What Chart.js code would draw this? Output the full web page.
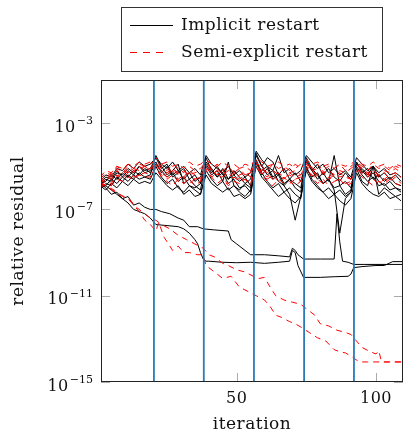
<!DOCTYPE html>
<html>
<head>
<meta charset="utf-8">
<script src="https://cdn.jsdelivr.net/npm/chart.js@4"></script>
<style>
html, body { margin: 0; padding: 0; background: #fff; }
</style>
</head>
<body>
<canvas id="residualChart" width="404" height="433"></canvas>
<script>
// Iterations where a restart happens (blue vertical lines)
const restartIters = [20.3, 38.2, 56.2, 74.2, 92.1];

// Axis ticks
const xTicks = [50, 100];
const yTickExps = [-3, -7, -11, -15];

// Iterations sampled for the non-converged Ritz pairs
const clusterIters = [1, 3, 5, 7, 9, 11, 13, 15, 17, 19, 21, 23, 25, 27, 29, 31, 33, 35, 37,
  39, 41, 43, 45, 47, 49, 51, 53, 55, 57, 59, 61, 63, 65, 67, 69, 71, 73,
  75, 77, 79, 81, 83, 85, 87, 89, 91, 93, 95, 97, 99, 101, 103, 105, 107, 109];

// log10 of relative residual, implicit restart (non-converged pairs)
const implicitCluster1 = [-5.9, -5.6, -5.7, -5.3, -5.4, -5.1, -5.3, -5.0, -5.2, -5.1,
  -4.6, -5.1, -4.9, -5.4, -5.2, -5.6, -5.3, -5.7, -5.5,
  -4.9, -5.3, -5.0, -5.4, -5.6, -5.2, -5.5, -5.8, -5.6,
  -4.5, -5.0, -4.6, -4.8, -5.4, -5.1, -5.6, -5.3, -5.7,
  -4.8, -5.2, -4.9, -5.4, -5.1, -5.5, -5.7, -5.3, -5.6,
  -4.9, -5.1, -5.4, -5.0, -5.5, -5.3, -5.6, -5.4, -5.7];
const implicitCluster2 = [-6.0, -5.9, -5.6, -5.8, -5.5, -5.7, -5.4, -5.6, -5.5, -5.6,
  -5.0, -5.5, -5.8, -5.6, -6.0, -6.2, -5.9, -6.1, -6.3,
  -5.2, -5.6, -5.9, -5.7, -6.1, -5.9, -6.2, -6.4, -6.1,
  -4.7, -5.3, -5.7, -6.0, -5.8, -6.2, -6.0, -6.3, -6.5,
  -5.0, -5.6, -5.9, -6.2, -6.0, -6.3, -6.1, -6.4, -6.2,
  -5.1, -5.7, -5.9, -5.0, -6.3, -6.0, -6.2, -6.4, -6.3];
const implicitCluster3 = [-5.8, -5.7, -5.4, -5.6, -5.3, -5.5, -5.2, -5.4, -5.1, -5.3,
  -4.9, -5.2, -5.5, -5.3, -5.7, -5.5, -5.9, -6.0, -5.8,
  -5.0, -5.4, -5.2, -5.7, -4.8, -5.9, -6.1, -5.8, -6.0,
  -4.4, -5.0, -5.4, -5.2, -5.7, -5.9, -6.3, -7.5, -6.4,
  -5.1, -5.5, -5.3, -5.8, -5.6, -6.0, -5.9, -6.3, -6.1,
  -5.0, -5.4, -5.7, -5.5, -5.9, -5.8, -6.1, -6.0, -6.2];
const implicitCluster4 = [-6.1, -5.8, -5.9, -5.5, -5.7, -5.4, -5.6, -5.3, -5.5, -5.4,
  -4.5, -5.0, -5.4, -5.2, -4.9, -5.8, -5.6, -5.9, -6.1,
  -4.8, -5.1, -5.5, -5.3, -5.8, -5.6, -6.0, -5.9, -6.2,
  -4.9, -5.2, -5.0, -5.5, -5.3, -5.8, -5.6, -6.0, -6.2,
  -4.6, -5.1, -5.4, -5.8, -5.6, -6.1, -8.1, -6.5, -6.2,
  -4.8, -5.2, -5.5, -5.3, -5.7, -5.9, -5.7, -6.0, -6.1];
const implicitCluster5 = [-5.7, -5.4, -5.5, -5.1, -5.2, -4.9, -5.1, -4.8, -5.0, -4.9,
  -4.6, -4.9, -5.1, -4.8, -5.2, -5.0, -5.3, -5.1, -5.4,
  -4.5, -4.9, -5.1, -5.3, -5.0, -5.4, -5.2, -5.5, -5.3,
  -4.3, -4.7, -5.0, -5.2, -4.5, -5.3, -5.1, -5.4, -5.2,
  -4.5, -4.8, -5.1, -4.9, -5.3, -5.1, -5.4, -5.2, -5.5,
  -4.6, -4.9, -5.2, -5.0, -5.3, -5.1, -5.4, -5.3, -5.5];
const implicitCluster6 = [-5.9, -6.1, -5.8, -6.0, -5.7, -5.9, -5.6, -5.8, -5.7, -5.8,
  -5.3, -5.6, -5.9, -6.1, -5.9, -6.3, -6.1, -6.4, -6.3,
  -5.4, -5.8, -6.0, -6.2, -6.0, -6.4, -6.3, -6.5, -6.3,
  -5.0, -5.5, -5.8, -6.1, -6.4, -6.2, -6.5, -6.7, -6.4,
  -5.2, -5.7, -6.0, -6.2, -6.5, -6.3, -6.6, -6.8, -6.5,
  -5.3, -5.8, -6.1, -6.3, -6.4, -6.2, -6.5, -6.4, -6.6];
const implicitCluster7 = [-5.8, -5.5, -5.6, -5.2, -5.5, -5.2, -5.4, -5.0, -5.3, -5.2,
  -4.8, -5.3, -5.0, -5.5, -5.3, -5.1, -5.6, -5.4, -5.8,
  -4.6, -5.2, -5.5, -5.1, -5.6, -5.4, -5.7, -5.5, -5.9,
  -4.8, -5.4, -5.1, -5.6, -5.4, -5.9, -5.6, -5.8, -6.0,
  -4.7, -5.2, -5.6, -5.3, -5.7, -4.5, -5.9, -5.7, -6.0,
  -4.8, -5.3, -5.1, -5.6, -5.4, -5.7, -5.5, -5.8, -5.9];

// log10 of relative residual, semi-explicit restart (non-converged pairs)
const semiCluster1 = [-5.6, -5.3, -5.4, -5.0, -5.2, -4.9, -5.1, -4.9, -5.0, -4.9,
  -4.7, -5.0, -5.2, -4.9, -5.1, -5.3, -5.0, -5.2, -5.1,
  -4.8, -5.1, -4.9, -5.2, -5.0, -5.3, -5.1, -5.0, -5.2,
  -4.7, -5.0, -5.2, -4.9, -5.1, -5.0, -5.2, -4.9, -5.1,
  -4.8, -5.1, -4.9, -5.2, -5.0, -5.1, -4.9, -5.2, -5.0,
  -4.8, -5.0, -5.2, -4.9, -5.1, -5.0, -5.2, -5.0, -5.1];
const semiCluster2 = [-5.8, -5.5, -5.6, -5.2, -5.4, -5.1, -5.3, -5.0, -5.2, -5.1,
  -4.9, -5.3, -5.5, -5.2, -5.6, -5.4, -5.3, -5.6, -5.5,
  -5.0, -5.4, -5.2, -5.5, -5.3, -5.6, -5.4, -5.3, -5.5,
  -4.9, -5.3, -5.5, -5.2, -5.4, -5.6, -5.3, -5.5, -5.4,
  -5.0, -5.2, -5.5, -5.3, -5.6, -5.4, -5.3, -5.5, -5.6,
  -5.0, -5.3, -5.5, -5.2, -5.4, -5.6, -5.4, -5.3, -5.5];
const semiCluster3 = [-5.9, -5.7, -5.8, -5.4, -5.6, -5.3, -5.5, -5.4, -5.3, -5.4,
  -5.1, -5.5, -5.7, -5.9, -5.6, -5.8, -5.6, -5.9, -5.7,
  -5.2, -5.5, -5.8, -5.6, -5.9, -5.7, -5.8, -5.6, -5.9,
  -5.0, -5.4, -5.7, -5.9, -5.6, -5.8, -5.7, -5.9, -5.7,
  -5.1, -5.5, -5.8, -5.6, -5.9, -5.7, -5.6, -5.9, -5.8,
  -5.2, -5.5, -5.7, -5.9, -5.7, -5.8, -5.6, -5.8, -5.9];
const semiCluster4 = [-5.5, -5.2, -5.3, -5.0, -5.1, -4.9, -5.0, -4.8, -4.9, -4.8,
  -4.6, -4.9, -4.8, -5.0, -4.9, -5.1, -4.8, -5.0, -4.9,
  -4.7, -4.9, -5.0, -4.8, -5.0, -4.9, -5.1, -4.9, -5.0,
  -4.6, -4.8, -5.0, -4.9, -4.8, -5.0, -4.9, -5.1, -4.9,
  -4.7, -4.9, -4.8, -5.0, -4.9, -5.1, -4.9, -5.0, -4.9,
  -4.7, -4.9, -5.0, -4.8, -5.0, -4.9, -5.1, -4.9, -5.0];
const semiCluster5 = [-6.0, -5.8, -5.9, -5.6, -5.7, -5.5, -5.6, -5.4, -5.5, -5.5,
  -5.0, -5.4, -5.6, -5.4, -5.7, -5.5, -5.8, -5.6, -5.7,
  -5.1, -5.5, -5.3, -5.6, -5.8, -5.5, -5.7, -5.6, -5.8,
  -5.0, -5.3, -5.6, -5.4, -5.7, -5.5, -5.8, -5.6, -5.7,
  -5.1, -5.4, -5.6, -5.8, -5.5, -5.7, -5.6, -5.8, -5.7,
  -5.1, -5.4, -5.3, -5.6, -5.8, -5.6, -5.7, -5.5, -5.8];
const semiCluster6 = [-5.7, -5.4, -5.5, -5.1, -5.3, -5.0, -5.2, -5.1, -5.0, -5.1,
  -4.8, -5.1, -5.3, -5.1, -5.4, -5.2, -5.4, -5.3, -5.2,
  -4.9, -5.2, -5.1, -5.4, -5.2, -5.3, -5.1, -5.4, -5.3,
  -4.8, -5.1, -5.3, -5.2, -5.4, -5.1, -5.3, -5.2, -5.4,
  -4.9, -5.2, -5.1, -5.3, -5.2, -5.4, -5.2, -5.3, -5.1,
  -4.9, -5.1, -5.3, -5.2, -5.4, -5.2, -5.3, -5.1, -5.3];
const semiCluster7 = [-5.8, -5.6, -5.3, -5.5, -5.2, -5.3, -5.1, -5.2, -5.0, -5.2,
  -4.9, -5.2, -5.4, -5.1, -5.3, -5.5, -5.2, -5.4, -5.6,
  -4.8, -5.2, -5.4, -5.2, -5.5, -5.3, -5.6, -5.4, -5.3,
  -4.9, -5.1, -5.4, -5.6, -5.3, -5.5, -5.4, -5.6, -5.5,
  -4.8, -5.2, -5.4, -5.2, -5.5, -5.3, -5.5, -5.4, -5.6,
  -4.9, -5.2, -5.4, -5.3, -5.5, -5.3, -5.6, -5.4, -5.5];

// Converging pairs, implicit restart
const implicitUpperIters = [1, 3, 5, 7, 9, 11, 13, 15, 17, 19, 21, 23, 26, 29, 31, 33, 36, 38,
  42, 47, 48, 50, 53, 55, 60, 65, 69, 70, 71, 72, 74, 80, 85, 86, 87, 88, 90, 92, 96, 100, 105, 110];
const implicitUpperExps = [-5.8, -6.0, -6.3, -6.2, -6.5, -6.4, -6.8, -6.7, -6.9, -7.0,
  -7.0, -7.1, -7.2, -7.4, -7.5, -7.8, -7.8, -7.9,
  -7.95, -8.0, -8.4, -8.6, -8.9, -9.1, -9.1, -9.15, -9.2, -8.8, -8.9, -9.1, -9.3,
  -9.3, -9.3, -7.2, -8.5, -9.4, -9.45, -9.55, -9.55, -9.55, -9.55, -9.55];
const implicitLowerIters = [1, 3, 5, 7, 9, 11, 13, 15, 17, 19, 21, 25, 29, 31, 33, 35, 36, 37, 38, 39, 40,
  45, 50, 55, 60, 65, 69, 70, 71, 72, 74, 80, 85, 90, 91, 92, 95, 100, 103, 106, 110];
const implicitLowerExps = [-5.8, -5.9, -6.1, -6.3, -6.5, -6.7, -7.0, -7.1, -7.2, -7.4,
  -7.7, -7.75, -7.8, -7.9, -8.1, -8.4, -8.6, -9.0, -9.3, -9.4, -9.4,
  -9.45, -9.47, -9.45, -9.5, -9.45, -9.4, -8.9, -9.0, -9.6, -10.15,
  -10.15, -10.12, -10.1, -10.0, -9.7, -9.65, -9.6, -9.6, -9.42, -9.42];

// Converging pairs, semi-explicit restart
const semiFastIters = [1, 4, 8, 11, 13, 15, 17, 19, 21, 22, 24, 27, 29, 31, 33, 36, 38,
  39, 40, 43, 45, 48, 51, 54, 57, 60, 62, 64, 66, 69, 71, 73, 76, 79, 82, 85, 87, 89, 91,
  94, 97, 100, 105, 110];
const semiFastExps = [-5.8, -6.0, -6.3, -6.5, -6.8, -7.1, -7.5, -7.7, -8.0, -7.6, -8.3, -8.9, -8.7,
  -9.0, -9.0, -9.1, -9.1, -9.6, -9.7, -10.0, -10.2, -10.1, -10.6, -10.8, -11.0, -11.2, -11.5,
  -11.9, -12.0, -12.2, -12.3, -12.45, -12.7, -12.95, -13.1, -13.5, -13.6, -13.65, -13.8,
  -14.07, -14.07, -14.07, -14.07, -14.07];
const semiSlowIters = [1, 3, 6, 9, 12, 14, 17, 19, 21, 23, 26, 29, 32, 35, 38, 40, 42, 45, 47, 50,
  53, 56, 58, 60, 62, 64, 67, 70, 73, 76, 78, 80, 83, 86, 89, 91, 93, 95, 98, 100, 101, 102, 105, 110];
const semiSlowExps = [-5.8, -5.9, -6.1, -6.4, -6.6, -6.9, -7.2, -7.4, -7.5, -7.7, -7.9, -8.2, -8.4,
  -8.6, -8.8, -9.1, -9.2, -9.5, -9.6, -9.8, -9.9, -10.1, -10.2, -10.15, -10.6, -11.0, -11.2,
  -11.3, -11.4, -11.7, -11.9, -12.3, -12.4, -12.6, -12.7, -12.8, -13.1, -13.4, -13.6, -13.7,
  -13.55, -14.07, -14.07, -14.07];

const serif = '"DejaVu Serif", serif';

// Turn iteration list + log10 residual list into chart points
function toPoints(iters, exps) {
  return exps.map((e, i) => ({ x: iters[i], y: Math.pow(10, e) }));
}

function implicitSet(iters, exps) {
  return { data: toPoints(iters, exps), borderColor: '#000', borderWidth: 1, order: 2 };
}

function semiSet(iters, exps) {
  return { data: toPoints(iters, exps), borderColor: '#ff0000', borderWidth: 1, borderDash: [6, 5], order: 1 };
}

const datasets = [];

// restart lines drawn on top
restartIters.forEach(r => {
  datasets.push({ data: [{ x: r, y: 1e-15 }, { x: r, y: 1e-1 }], borderColor: '#2b7bb9', borderWidth: 1.8, order: -1 });
});

[implicitCluster1, implicitCluster2, implicitCluster3, implicitCluster4, implicitCluster5,
  implicitCluster6, implicitCluster7].forEach(exps => datasets.push(implicitSet(clusterIters, exps)));
datasets.push(implicitSet(implicitUpperIters, implicitUpperExps));
datasets.push(implicitSet(implicitLowerIters, implicitLowerExps));

[semiCluster1, semiCluster2, semiCluster3, semiCluster4, semiCluster5, semiCluster6, semiCluster7]
  .forEach(exps => datasets.push(semiSet(clusterIters, exps)));
datasets.push(semiSet(semiFastIters, semiFastExps));
datasets.push(semiSet(semiSlowIters, semiSlowExps));

function setFont(ctx, size) {
  ctx.font = size + 'px ' + serif;
  ctx.letterSpacing = size > 14 ? '0.5px' : '0px';
}

// Draws the pgfplots-like frame, ticks, labels and legend
const frameplugin = {
  id: 'frame',
  beforeDatasetsDraw(chart) {
    const ctx = chart.ctx;
    const a = chart.chartArea;
    const xs = chart.scales.x, ys = chart.scales.y;
    ctx.save();
    ctx.strokeStyle = '#aaaaaa';
    ctx.lineWidth = 1;
    xTicks.forEach(t => {
      const px = Math.round(xs.getPixelForValue(t)) + 0.5;
      ctx.beginPath();
      ctx.moveTo(px, a.bottom); ctx.lineTo(px, a.bottom - 9);
      ctx.moveTo(px, a.top); ctx.lineTo(px, a.top + 9);
      ctx.stroke();
    });
    yTickExps.forEach(e => {
      const py = Math.round(ys.getPixelForValue(Math.pow(10, e))) + 0.5;
      ctx.beginPath();
      ctx.moveTo(a.left, py); ctx.lineTo(a.left + 9, py);
      ctx.moveTo(a.right, py); ctx.lineTo(a.right - 9, py);
      ctx.stroke();
    });
    ctx.restore();
  },
  afterDraw(chart) {
    const ctx = chart.ctx;
    const a = chart.chartArea;
    const xs = chart.scales.x, ys = chart.scales.y;
    ctx.save();

    // box
    ctx.strokeStyle = '#222';
    ctx.lineWidth = 1;
    ctx.strokeRect(a.left + 0.5, a.top + 0.5, a.right - a.left - 1, a.bottom - a.top - 1);

    ctx.fillStyle = '#111';
    // x tick labels
    setFont(ctx, 16);
    ctx.textAlign = 'center';
    ctx.textBaseline = 'alphabetic';
    xTicks.forEach(t => ctx.fillText(String(t), xs.getPixelForValue(t), 403));

    // y tick labels with superscript exponent
    yTickExps.forEach(e => {
      const py = ys.getPixelForValue(Math.pow(10, e));
      const expText = '\u2212' + Math.abs(e);
      setFont(ctx, 11);
      const expW = ctx.measureText(expText).width;
      setFont(ctx, 16);
      const baseW = ctx.measureText('10').width;
      const x0 = 92 - expW - baseW;
      ctx.textAlign = 'left';
      ctx.fillText('10', x0, py + 8.5);
      setFont(ctx, 11);
      ctx.fillText(expText, x0 + baseW + 1, py + 1);
    });

    // axis titles
    setFont(ctx, 17);
    ctx.textAlign = 'center';
    ctx.fillText('iteration', 252, 429);
    ctx.save();
    ctx.translate(23, 231);
    ctx.rotate(-Math.PI / 2);
    ctx.fillText('relative residual', 0, 0);
    ctx.restore();

    // legend
    ctx.strokeStyle = '#333';
    ctx.strokeRect(121.5, 7.5, 261, 64);
    ctx.lineWidth = 1;
    ctx.strokeStyle = '#000';
    ctx.beginPath(); ctx.moveTo(130, 25.5); ctx.lineTo(173, 25.5); ctx.stroke();
    ctx.strokeStyle = '#ff0000';
    ctx.setLineDash([7, 6]);
    ctx.beginPath(); ctx.moveTo(130, 52.5); ctx.lineTo(168, 52.5); ctx.stroke();
    ctx.setLineDash([]);
    ctx.textAlign = 'left';
    ctx.fillStyle = '#111';
    ctx.fillText('Implicit restart', 181, 30);
    ctx.fillText('Semi-explicit restart', 181, 57);
    ctx.restore();
  }
};

const chart = new Chart(document.getElementById('residualChart').getContext('2d'), {
  type: 'line',
  data: { datasets },
  options: {
    responsive: false,
    animation: false,
    devicePixelRatio: 1,
    layout: { padding: { left: 101, right: 1, top: 80, bottom: 51 } },
    elements: { point: { radius: 0 }, line: { tension: 0 } },
    plugins: { legend: { display: false }, tooltip: { enabled: false } },
    scales: {
      x: { type: 'linear', min: 1.3, max: 109.7, display: false },
      y: { type: 'logarithmic', min: 1e-15, max: 1e-1, display: false }
    }
  },
  plugins: [frameplugin]
});
</script>
</body>
</html>
